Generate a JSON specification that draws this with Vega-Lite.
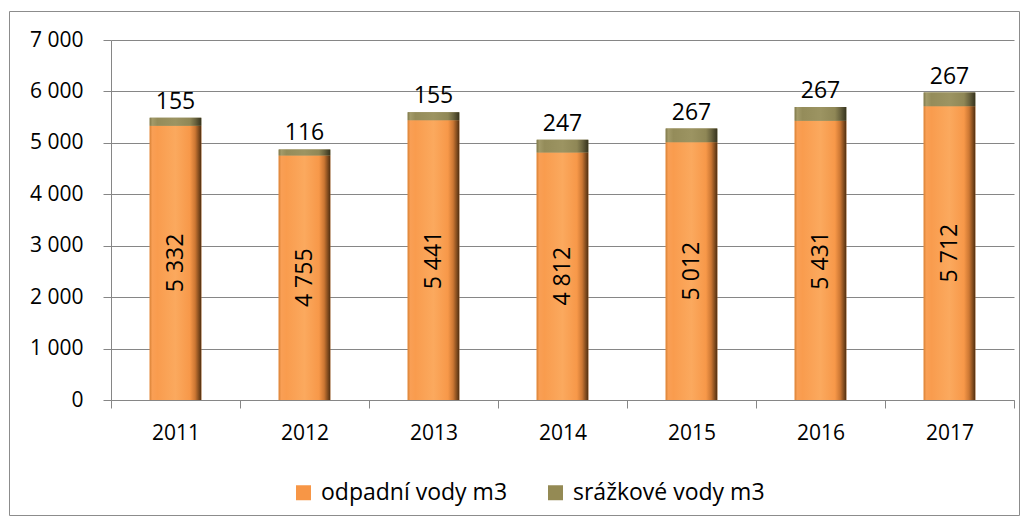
{
  "$schema": "https://vega.github.io/schema/vega-lite/v6.json",
  "autosize": {"type": "none"},
  "padding": {"left": 9, "top": 11, "right": 9, "bottom": 11},
  "width": 1010,
  "height": 504,
  "background": "white",
  "config": {
    "view": {"stroke": "#8C8C8C", "strokeWidth": 1},
    "font": "Open Sans",
    "locale": {"number": {"decimal": ",", "thousands": " ", "grouping": [3], "currency": ["", " Kč"]}}
  },
  "data": {
    "values": [
      {"year": "2011", "series": "odpadní vody m3", "value": 5332},
      {"year": "2011", "series": "srážkové vody m3", "value": 155},
      {"year": "2012", "series": "odpadní vody m3", "value": 4755},
      {"year": "2012", "series": "srážkové vody m3", "value": 116},
      {"year": "2013", "series": "odpadní vody m3", "value": 5441},
      {"year": "2013", "series": "srážkové vody m3", "value": 155},
      {"year": "2014", "series": "odpadní vody m3", "value": 4812},
      {"year": "2014", "series": "srážkové vody m3", "value": 247},
      {"year": "2015", "series": "odpadní vody m3", "value": 5012},
      {"year": "2015", "series": "srážkové vody m3", "value": 267},
      {"year": "2016", "series": "odpadní vody m3", "value": 5431},
      {"year": "2016", "series": "srážkové vody m3", "value": 267},
      {"year": "2017", "series": "odpadní vody m3", "value": 5712},
      {"year": "2017", "series": "srážkové vody m3", "value": 267}
    ]
  },
  "encoding": {
    "x": {
      "field": "year",
      "type": "ordinal",
      "scale": {"range": [102, 1005], "paddingInner": 0, "paddingOuter": 0},
      "axis": {
        "orient": "bottom",
        "offset": -115,
        "title": null,
        "labelAngle": 0,
        "tickBand": "extent",
        "tickSize": 8,
        "tickColor": "#868686",
        "domainColor": "#868686",
        "labelPadding": 14,
        "labelFontSize": 21,
        "labelColor": "#000000",
        "labelFont": "Open Sans",
        "grid": false
      }
    }
  },
  "resolve": {"scale": {"y": "independent"}},
  "layer": [
    {
      "mark": {"type": "bar", "width": {"band": 0.4}},
      "encoding": {
        "y": {
          "field": "value",
          "type": "quantitative",
          "stack": "zero",
          "scale": {"domain": [0, 7000], "range": [389, 29], "nice": false, "zero": true},
          "axis": {
            "orient": "left",
            "offset": -102,
            "title": null,
            "values": [0, 1000, 2000, 3000, 4000, 5000, 6000, 7000],
            "format": ",d",
            "tickSize": 8,
            "tickColor": "#868686",
            "domainColor": "#868686",
            "grid": true,
            "gridColor": "#868686",
            "gridOpacity": 1,
            "labelPadding": 20,
            "labelFontSize": 21,
            "labelColor": "#000000",
            "labelFont": "Open Sans"
          }
        },
        "color": {
          "field": "series",
          "type": "nominal",
          "scale": {"domain": ["odpadní vody m3", "srážkové vody m3"], "range": ["#F79646", "#948A54"]},
          "legend": {
            "title": null,
            "orient": "none",
            "direction": "horizontal",
            "legendX": 283,
            "legendY": 470,
            "padding": 0,
            "symbolType": "square",
            "symbolSize": 225,
            "symbolStrokeWidth": 0,
            "labelFontSize": 23,
            "labelFont": "Open Sans",
            "labelColor": "#000000",
            "labelOffset": 6,
            "labelLimit": 0,
            "columnPadding": 36
          }
        },
        "order": {"field": "series", "sort": "ascending"}
      }
    },
    {
      "mark": {"type": "bar", "width": {"band": 0.4}},
      "encoding": {
        "y": {"field": "value", "type": "quantitative", "stack": "zero", "scale": {"domain": [0, 7000], "range": [389, 29], "nice": false, "zero": true}, "axis": null},
        "detail": {"field": "series"},
        "order": {"field": "series", "sort": "ascending"},
        "fill": {
          "condition": {
            "test": "datum.series === 'odpadní vody m3'",
            "value": {"gradient": "linear", "x1": 0, "x2": 1, "y1": 0, "y2": 0, "stops": [
              {"offset": 0, "color": "#D98236"},
              {"offset": 0.05, "color": "#F99F55"},
              {"offset": 0.15, "color": "#F99C4E"},
              {"offset": 0.5, "color": "#FBA95E"},
              {"offset": 0.78, "color": "#F79849"},
              {"offset": 0.88, "color": "#CC7733"},
              {"offset": 1, "color": "#4F2E10"}
            ]}
          },
          "value": {"gradient": "linear", "x1": 0, "x2": 1, "y1": 0, "y2": 0, "stops": [
            {"offset": 0, "color": "#7E784A"},
            {"offset": 0.05, "color": "#A39B6A"},
            {"offset": 0.15, "color": "#948C5A"},
            {"offset": 0.5, "color": "#9C9462"},
            {"offset": 0.78, "color": "#8F8756"},
            {"offset": 0.88, "color": "#6B6540"},
            {"offset": 1, "color": "#35321D"}
          ]}
        }
      }
    },
    {
      "transform": [{"filter": "datum.series === 'odpadní vody m3'"}],
      "mark": {"type": "text", "angle": 270, "align": "center", "baseline": "middle", "fontSize": 23, "font": "Open Sans", "color": "#000000"},
      "encoding": {
        "y": {"field": "value", "type": "quantitative", "stack": null, "scale": {"domain": [0, 14000], "range": [389, 29], "nice": false, "zero": true}, "axis": null},
        "text": {"field": "value", "type": "quantitative", "format": ",d"}
      }
    },
    {
      "transform": [
        {"joinaggregate": [{"op": "sum", "field": "value", "as": "total"}], "groupby": ["year"]},
        {"filter": "datum.series === 'srážkové vody m3'"}
      ],
      "mark": {"type": "text", "align": "center", "baseline": "alphabetic", "dy": -9, "fontSize": 23, "font": "Open Sans", "color": "#000000"},
      "encoding": {
        "y": {"field": "total", "type": "quantitative", "stack": null, "scale": {"domain": [0, 7000], "range": [389, 29], "nice": false, "zero": true}, "axis": null},
        "text": {"field": "value", "type": "quantitative", "format": ",d"}
      }
    }
  ]
}
